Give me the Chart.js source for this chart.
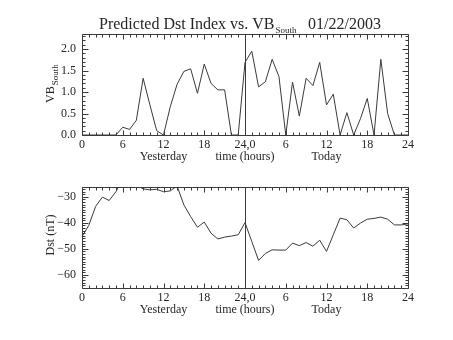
<!DOCTYPE html>
<html><head><meta charset="utf-8">
<script src="https://cdn.jsdelivr.net/npm/chart.js@4/dist/chart.umd.min.js"></script>
<style>
html,body{margin:0;padding:0;background:#fff;}
#wrap{position:relative;width:453px;height:340px;overflow:hidden;}
canvas{position:absolute;left:0;}
</style></head><body>
<div id="wrap">
<canvas id="c1" width="453" height="170" style="top:0px"></canvas>
<canvas id="c2" width="453" height="170" style="top:170px"></canvas>
</div>
<script>
// ---- data (hours since start of "Yesterday") ----
const hours = [0,1,2,3,4,5,6,7,8,9,10,11,12,13,14,15,16,17,18,19,20,21,22,23,24,
               25,26,27,28,29,30,31,32,33,34,35,36,37,38,39,40,41,42,43,44,45,46,47,48];
const vbSouth = [0,0,0,0,0,0,0.18,0.13,0.34,1.32,0.70,0.10,0,0.66,1.18,1.48,1.54,0.97,1.65,1.20,1.05,1.05,0,0,
                 1.69,1.95,1.12,1.24,1.76,1.36,0,1.23,0.44,1.32,1.15,1.69,0.70,0.95,0,0.52,0,0.38,0.85,0,1.76,0.50,0,0,0];
const dst = [-45.3,-41.0,-33.7,-30.1,-31.4,-28.0,-23.0,-24.0,-25.5,-26.9,-27.3,-27.1,-28.0,-27.7,-25.8,-33.1,-37.6,-41.7,-39.7,-44.0,-46.2,-45.5,-45.1,-44.6,
             -39.9,-47.2,-54.5,-51.8,-50.4,-50.5,-50.5,-47.8,-48.8,-47.6,-49.0,-46.7,-51.0,-44.6,-38.2,-38.8,-42.0,-40.1,-38.6,-38.3,-37.8,-38.6,-40.8,-40.8,-40.4];
const xTickValues = [0,6,12,18,24,30,36,42,48];
const xTickLabels = ['0','6','12','18','24,0','6','12','18','24'];
const dayLabels = ['Yesterday','time (hours)','Today'];
const dayLabelHours = [12,24,36];
const titleMain = 'Predicted Dst Index vs. VB';
const titleSub = 'South';
const titleDate = '01/22/2003';
const vbRange = [0, 2.35];
const dstRange = [-65.1, -26.2];

const FONT = "'Liberation Serif', 'DejaVu Serif', serif";
const INK = '#262626';

function frameTicksPlugin(opts) {
  return {
    id: 'frameTicks',
    afterDraw(chart) {
      const ctx = chart.ctx, a = chart.chartArea;
      const xs = chart.scales.x, ys = chart.scales.y;
      ctx.save();
      ctx.strokeStyle = '#3a3a3a';
      ctx.lineWidth = 1;
      const L = Math.round(a.left) + 0.5, R = Math.round(a.right) + 0.5;
      const T = Math.round(a.top) + 0.5, B = Math.round(a.bottom) + 0.5;
      ctx.beginPath();
      ctx.rect(L, T, R - L, B - T);
      // x ticks every hour, major every 6
      for (let h = xs.min; h <= xs.max; h += 1) {
        const px = Math.round(xs.getPixelForValue(h)) + 0.5;
        const len = (h % 6 === 0) ? 5 : 3;
        ctx.moveTo(px, B); ctx.lineTo(px, B - len);
        ctx.moveTo(px, T); ctx.lineTo(px, T + len);
      }
      // y ticks
      const start = Math.ceil(ys.min / opts.minor - 1e-9) * opts.minor;
      for (let v = start; v <= ys.max + 1e-9; v += opts.minor) {
        const py = Math.round(ys.getPixelForValue(v)) + 0.5;
        const isMajor = Math.abs(v / opts.major - Math.round(v / opts.major)) < 1e-6;
        const len = isMajor ? 6 : 3;
        ctx.moveTo(L, py); ctx.lineTo(L + len, py);
        ctx.moveTo(R, py); ctx.lineTo(R - len, py);
      }
      // vertical divider at 24 h
      const vx = Math.round(xs.getPixelForValue(24)) + 0.5;
      ctx.moveTo(vx, T); ctx.lineTo(vx, B);
      ctx.stroke();

      // day labels under the axis
      ctx.fillStyle = INK;
      ctx.font = '12px ' + FONT;
      ctx.textAlign = 'center';
      ctx.textBaseline = 'alphabetic';
      dayLabels.forEach((t, i) => {
        ctx.fillText(t, xs.getPixelForValue(dayLabelHours[i]), a.bottom + opts.dayLabelDy);
      });
      if (opts.extra) opts.extra(ctx, chart);
      ctx.restore();
    }
  };
}

function makeChart(id, values, range, tickStep, labelFmt, padTop, xHeight, plugOpts) {
  return new Chart(document.getElementById(id), {
    type: 'line',
    data: {
      datasets: [{
        data: hours.map((h, i) => ({x: h, y: values[i]})),
        borderColor: '#3a3a3a',
        borderWidth: 1,
        pointRadius: 0,
        tension: 0,
        fill: false
      }]
    },
    options: {
      responsive: false,
      animation: false,
      devicePixelRatio: 1,
      layout: {padding: {left: 0, right: 45, top: padTop, bottom: 0}},
      plugins: {legend: {display: false}, tooltip: {enabled: false}, title: {display: false}},
      scales: {
        x: {
          type: 'linear', min: 0, max: 48,
          grid: {display: false, drawTicks: false},
          border: {display: false},
          afterBuildTicks: s => { s.ticks = xTickValues.map(v => ({value: v})); },
          ticks: {
            autoSkip: false, maxRotation: 0, padding: 3, color: INK,
            font: {family: FONT, size: 12},
            callback: (v) => { const i = xTickValues.indexOf(v); return i >= 0 ? xTickLabels[i] : ''; }
          },
          afterFit: s => { s.height = xHeight; }
        },
        y: {
          type: 'linear', min: range[0], max: range[1],
          grid: {display: false, drawTicks: false},
          border: {display: false},
          ticks: {
            stepSize: tickStep, includeBounds: false, padding: 6, color: INK,
            font: {family: FONT, size: 12},
            callback: labelFmt
          },
          afterFit: s => { s.width = 82; }
        }
      }
    },
    plugins: [frameTicksPlugin(plugOpts)]
  });
}

makeChart('c1', vbSouth, vbRange, 0.5, v => v.toFixed(1), 34, 35, {
  minor: 0.1, major: 0.5, dayLabelDy: 25,
  extra(ctx, chart) {
    ctx.fillStyle = INK;
    ctx.textAlign = 'left';
    ctx.font = '16px ' + FONT;
    const x0 = 99;
    ctx.fillText(titleMain, x0, 29);
    const w = ctx.measureText(titleMain).width;
    ctx.font = '9px ' + FONT;
    ctx.fillText(titleSub, x0 + w + 1, 33);
    ctx.font = '16px ' + FONT;
    ctx.fillText(titleDate, 308, 29);
    // y axis title VB_South
    ctx.save();
    ctx.translate(54, 103);
    ctx.rotate(-Math.PI / 2);
    ctx.font = '12px ' + FONT;
    ctx.fillText('VB', 0, 0);
    const w2 = ctx.measureText('VB').width;
    ctx.font = '9px ' + FONT;
    ctx.fillText(titleSub, w2 + 1, 4);
    ctx.restore();
  }
});

makeChart('c2', dst, dstRange, 10, v => String(v).replace('-', '\u2212'), 17, 52, {
  minor: 1, major: 10, dayLabelDy: 25,
  extra(ctx, chart) {
    ctx.fillStyle = INK;
    ctx.save();
    ctx.translate(54, 65);
    ctx.rotate(-Math.PI / 2);
    ctx.textAlign = 'center';
    ctx.font = '12px ' + FONT;
    ctx.fillText('Dst (nT)', 0, 0);
    ctx.restore();
  }
});
</script>
</body></html>
